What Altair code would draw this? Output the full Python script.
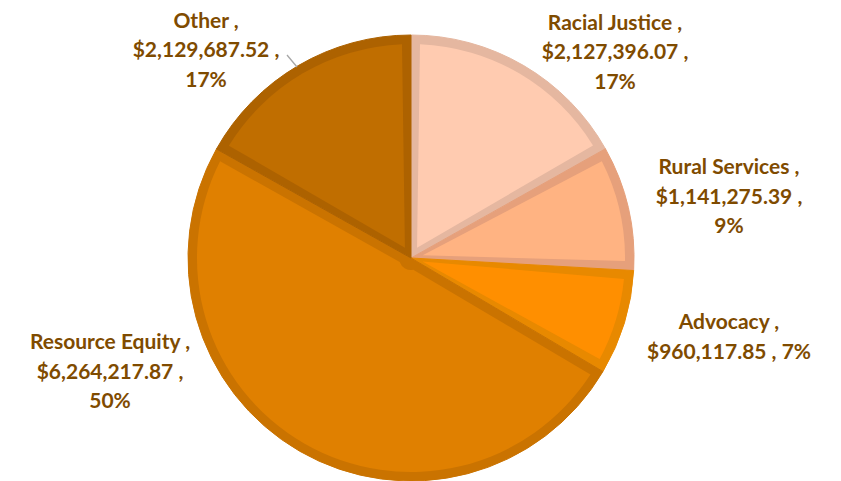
import altair as alt
import pandas as pd
import math

# ---- data ----
categories = ["Racial Justice", "Rural Services", "Advocacy", "Resource Equity", "Other"]
amounts = [2127396.07, 1141275.39, 960117.85, 6264217.87, 2129687.52]
amount_labels = ["$2,127,396.07", "$1,141,275.39", "$960,117.85", "$6,264,217.87", "$2,129,687.52"]
percent_labels = ["17%", "9%", "7%", "50%", "17%"]

# ---- styling / layout (not data) ----
fill_colors = ["#FFCBB0", "#FFB382", "#FF8F00", "#E08000", "#C06E00"]
border_colors = ["#E5B7A0", "#E6A07B", "#E88900", "#CA7300", "#AD6200"]
# two-line labels put amount and percent on one line
two_line = {"Advocacy"}
# first-line centres of label blocks (chart pixels)
label_pos = {
    "Racial Justice": (607, 15.5),
    "Rural Services": (721, 160),
    "Advocacy": (721, 315),
    "Resource Equity": (102, 335),
    "Other": (198, 13.5),
}
CX, CY, R, BORDER = 403, 250, 223, 9

df = pd.DataFrame({
    "category": categories,
    "amount": amounts,
    "idx": list(range(len(categories))),
})

lab_rows = []
for c, a, p in zip(categories, amount_labels, percent_labels):
    if c in two_line:
        txt = f"{c} ,\n{a} , {p}"
    else:
        txt = f"{c} ,\n{a} ,\n{p}"
    lx, ly = label_pos[c]
    lab_rows.append({"category": c, "label": txt, "lx": lx, "ly": ly})
labels = pd.DataFrame(lab_rows)

base = alt.Chart(df).encode(
    theta=alt.Theta("amount:Q", stack=True),
    order=alt.Order("idx:Q"),
    x=alt.value(CX),
    y=alt.value(CY),
)

outer = base.mark_arc(outerRadius=R, strokeWidth=1).encode(
    color=alt.Color("category:N", scale=alt.Scale(domain=categories, range=border_colors), legend=None),
    stroke=alt.Stroke("category:N", scale=alt.Scale(domain=categories, range=border_colors), legend=None),
)

inner_r0 = 12
rp = math.sqrt(inner_r0 ** 2 + (R - BORDER) ** 2)
pad = 2 * math.asin(BORDER / rp)

inner = base.mark_arc(outerRadius=R - BORDER, innerRadius=inner_r0, padAngle=pad).encode(
    fill=alt.Fill("category:N", scale=alt.Scale(domain=categories, range=fill_colors), legend=None),
)

text = alt.Chart(labels).mark_text(
    font="Lato", fontWeight="bold", fontSize=21, color="#7F4B00",
    lineBreak="\n", lineHeight=29.5, align="center", baseline="middle",
).encode(
    x=alt.X("lx:Q", scale=None),
    y=alt.Y("ly:Q", scale=None),
    text="label:N",
)

leader = alt.Chart(df.head(1)).mark_rule(color="#A6A6A6", strokeWidth=1.3).encode(
    x=alt.value(279), y=alt.value(47), x2=alt.value(289), y2=alt.value(59),
)

chart = alt.layer(outer, inner, leader, text).resolve_scale(
    color="independent", fill="independent", stroke="independent"
).properties(
    width=825, height=473, padding=0, autosize="none", background="white",
).configure_view(stroke=None)

chart.save("out.html", embed_options={"renderer": "svg", "actions": False})
